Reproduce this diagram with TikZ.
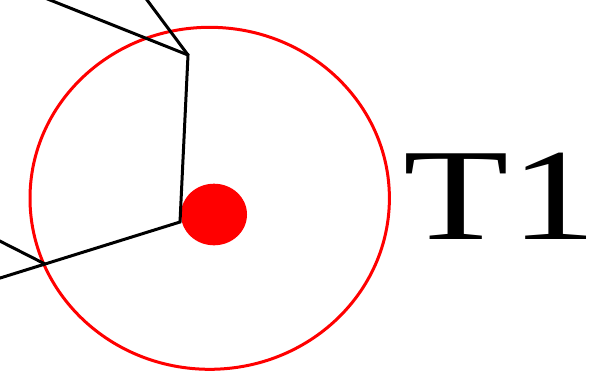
\documentclass[tikz,border=0pt]{standalone}
\usepackage{fontspec}
\setmainfont{Liberation Serif}
\tikzset{
  edge/.style={draw=black, line width=3bp, line join=miter},
  ring/.style={draw=red, line width=3bp},
  dot/.style={fill=red, draw=none},
  label/.style={inner sep=0pt, anchor=base west, font=\fontsize{131.4}{131.4}\selectfont}
}
\begin{document}
\begin{tikzpicture}[x=1bp,y=-1bp]
\useasboundingbox (0,0) rectangle (606,382);
\clip (0,0) rectangle (606,382);
% coordinates
\coordinate (a0) at (37.5,-5);
\coordinate (b0) at (143.3,-5);
\coordinate (v1) at (188,55);
\coordinate (v2) at (180,222);
\coordinate (d0) at (-5,279.6);
\coordinate (e0) at (-5,238.6);
\coordinate (x1) at (45,264);
% red ring and dot
\draw[ring] (209.7,198.3) ellipse [x radius=179.7, y radius=171];
\fill[dot] (214,214.5) ellipse [x radius=33, y radius=30.8];
% black polyline
\draw[edge] (a0) -- (v1) -- (v2) -- (d0);
\draw[edge] (b0) -- (v1);
\draw[edge] (e0) -- (x1);
% label
\node[label] (t1) at (403,239.3) {\scalebox{1.32}[1]{T\kern1.5bp 1}};
\end{tikzpicture}
\end{document}
